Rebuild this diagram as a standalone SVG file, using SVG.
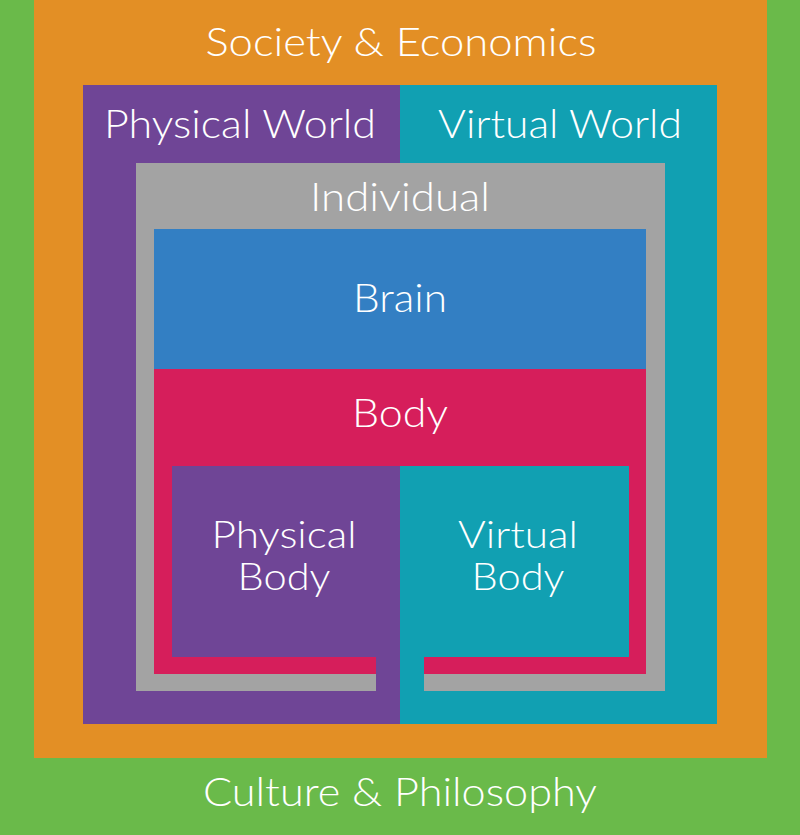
<svg xmlns="http://www.w3.org/2000/svg" width="800" height="835" viewBox="0 0 800 835">
<style>
text{font-family:Lato,"Open Sans","Liberation Sans",sans-serif;font-weight:300;fill:#fff;font-size:40px;text-anchor:middle;}
.two{font-size:38px;}
.green{fill:#6aba4a}.orange{fill:#e38f25}.purple{fill:#6f4596}.teal{fill:#11a0b2}.gray{fill:#a3a3a3}.blue{fill:#337fc3}.red{fill:#d61e5b}
</style>
<g id="culture">
<rect class="green" x="0" y="0" width="800" height="835"/>
<text x="400" y="806" textLength="394" lengthAdjust="spacingAndGlyphs">Culture &amp; Philosophy</text>
</g>
<g id="society">
<rect class="orange" x="34" y="0" width="733" height="758"/>
<text x="401" y="56" textLength="391" lengthAdjust="spacingAndGlyphs">Society &amp; Economics</text>
</g>
<g id="physical-world">
<rect class="purple" x="83" y="85" width="317" height="639"/>
<text x="240" y="138" textLength="272" lengthAdjust="spacingAndGlyphs">Physical World</text>
</g>
<g id="virtual-world">
<rect class="teal" x="400" y="85" width="317" height="639"/>
<text x="560" y="138" textLength="244" lengthAdjust="spacingAndGlyphs">Virtual World</text>
</g>
<g id="individual">
<path class="gray" d="M136,163 H665 V691 H424 V674 H646 V229 H154 V674 H376 V691 H136 Z"/>
<text x="400" y="211" textLength="180" lengthAdjust="spacingAndGlyphs">Individual</text>
</g>
<g id="brain">
<rect class="blue" x="154" y="229" width="492" height="140"/>
<text x="400" y="312" textLength="94" lengthAdjust="spacingAndGlyphs">Brain</text>
</g>
<g id="body">
<path class="red" d="M154,369 H646 V674 H424 V657 H629 V466 H172 V657 H376 V674 H154 Z"/>
<text x="400" y="427" textLength="96" lengthAdjust="spacingAndGlyphs">Body</text>
</g>
<g id="physical-body">
<rect class="purple" x="172" y="466" width="228" height="191"/>
<text class="two" x="284" y="548" textLength="145" lengthAdjust="spacingAndGlyphs">Physical</text>
<text class="two" x="284" y="590" textLength="93" lengthAdjust="spacingAndGlyphs">Body</text>
</g>
<g id="virtual-body">
<rect class="teal" x="400" y="466" width="229" height="191"/>
<text class="two" x="518" y="548" textLength="120" lengthAdjust="spacingAndGlyphs">Virtual</text>
<text class="two" x="518" y="590" textLength="93" lengthAdjust="spacingAndGlyphs">Body</text>
</g>
<g id="connectors"/>
</svg>
